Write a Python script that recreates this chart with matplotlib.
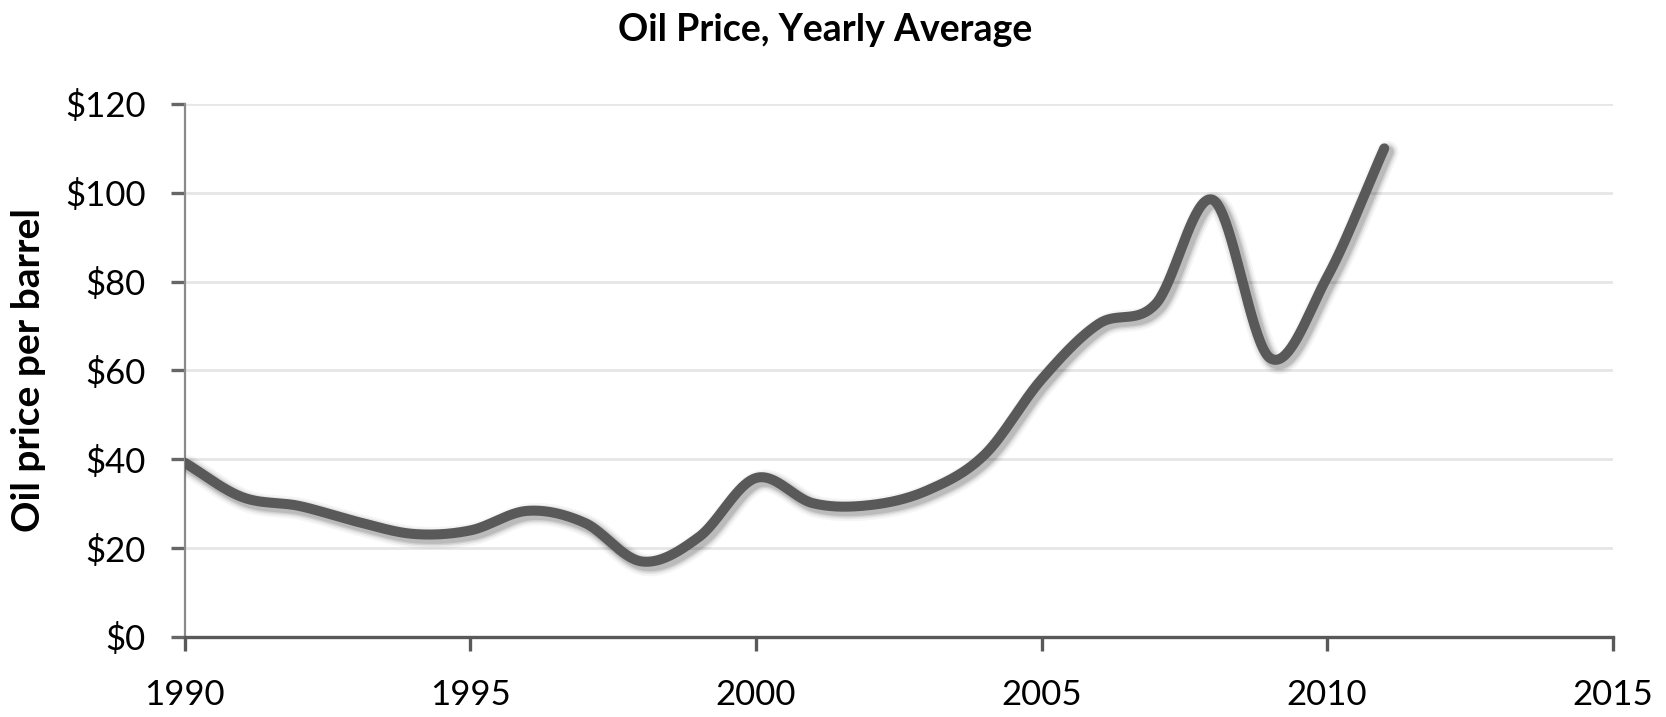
import numpy as np
import matplotlib.pyplot as plt
import matplotlib.patheffects as pe
from matplotlib.ticker import FuncFormatter

plt.rcParams['font.family'] = ['Lato', 'DejaVu Sans']

# yearly average oil price
years = np.arange(1990, 2012)
price = [39.2, 31.5, 29.5, 26.0, 23.2, 24.0, 28.4, 25.7, 17.0, 22.5, 35.8,
         30.1, 29.7, 33.0, 41.0, 58.0, 70.5, 75.0, 98.4, 62.8, 81.0, 110.0]

xticks = [1990, 1995, 2000, 2005, 2010, 2015]
yticks = [0, 20, 40, 60, 80, 100, 120]


def smooth(x, y, n=40):
    # Catmull-Rom style curve through the points (like Excel's smoothed line)
    x = np.asarray(x, float)
    y = np.asarray(y, float)
    px = np.concatenate([[2 * x[0] - x[1]], x, [2 * x[-1] - x[-2]]])
    py = np.concatenate([[2 * y[0] - y[1]], y, [2 * y[-1] - y[-2]]])
    t = np.linspace(0, 1, n, endpoint=False)
    xs, ys = [], []
    for i in range(1, len(px) - 2):
        for p, out in ((px, xs), (py, ys)):
            p0, p1, p2, p3 = p[i - 1], p[i], p[i + 1], p[i + 2]
            out.append(0.5 * ((2 * p1) + (-p0 + p2) * t
                              + (2 * p0 - 5 * p1 + 4 * p2 - p3) * t ** 2
                              + (-p0 + 3 * p1 - 3 * p2 + p3) * t ** 3))
    xs = np.concatenate(xs + [[x[-1]]])
    ys = np.concatenate(ys + [[y[-1]]])
    return xs, ys


fig = plt.figure(figsize=(16.66, 7.17), dpi=100)
ax = fig.add_axes([0.111, 0.1116, 0.857, 0.7434])

sx, sy = smooth(years, price)
shadow = [pe.SimpleLineShadow(offset=(2.5, -2.5), shadow_color='k', alpha=a, linewidth=w)
          for a, w in ((0.04, 16), (0.06, 13), (0.09, 10.5), (0.10, 8.5))]
ax.plot(sx, sy, color='#595959', lw=7.2, solid_capstyle='round',
        path_effects=shadow + [pe.Normal()], zorder=3)

ax.set_xlim(1990, 2015)
ax.set_ylim(0, 120)
ax.set_xticks(xticks)
ax.set_yticks(yticks)
ax.yaxis.set_major_formatter(FuncFormatter(lambda v, p: '${:.0f}'.format(v)))

ax.grid(axis='y', color='#e6e6e6', lw=2)
ax.set_axisbelow(True)
for s in ('top', 'right'):
    ax.spines[s].set_visible(False)
ax.spines['left'].set_color('#8a8a8a')
ax.spines['left'].set_linewidth(1.6)
ax.spines['bottom'].set_color('#595959')
ax.spines['bottom'].set_linewidth(2.4)

ax.tick_params(axis='x', direction='out', length=10, width=2.4, color='#595959',
               labelsize=25, pad=20)
ax.tick_params(axis='y', direction='out', length=10, width=2.4, color='#666666',
               labelsize=25, pad=18)

ax.set_ylabel('Oil price per barrel', fontsize=28, fontweight='bold', labelpad=14)
fig.text(0.495, 0.958, 'Oil Price, Yearly Average', fontsize=27, fontweight='bold',
         ha='center', va='center')

fig.savefig('out.png', dpi=100, facecolor='white')
